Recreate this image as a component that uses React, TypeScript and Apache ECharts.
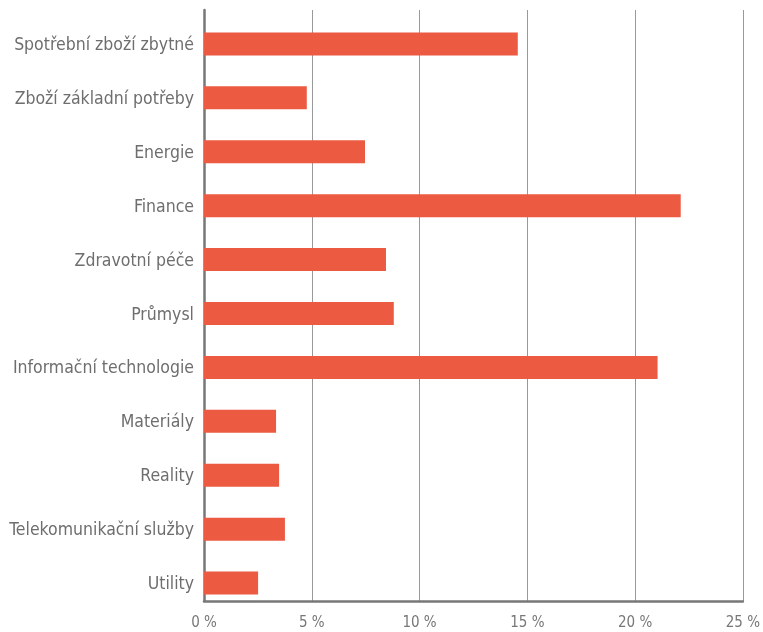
import React, { useEffect, useRef } from "react";
import * as echarts from "echarts";

const categories = [
  "Spotřební zboží zbytné",
  "Zboží základní potřeby",
  "Energie",
  "Finance",
  "Zdravotní péče",
  "Průmysl",
  "Informační technologie",
  "Materiály",
  "Reality",
  "Telekomunikační služby",
  "Utility",
];
const values = [14.5, 4.75, 7.44, 22.03, 8.41, 8.77, 20.96, 3.33, 3.47, 3.74, 2.5];
const xTicks = [0, 5, 10, 15, 20, 25];

const FONT = "'DejaVu Sans Condensed', 'Liberation Sans Narrow', sans-serif";

export default function App() {
  const ref = useRef<HTMLDivElement>(null);
  useEffect(() => {
    if (!ref.current) return;
    const chart = echarts.init(ref.current, undefined, { renderer: "svg" });
    chart.setOption({
      animation: false,
      grid: [
        { left: 204, right: 18, top: 10, bottom: 31, containLabel: false },
        { left: 204, right: 18, top: 17, bottom: 22, containLabel: false },
      ],
      xAxis: [
        {
          gridIndex: 0,
          type: "value",
          min: xTicks[0],
          max: xTicks[xTicks.length - 1],
          interval: 5,
          axisLine: { show: true, lineStyle: { color: "#777", width: 2.5 } },
          axisTick: { show: false },
          splitLine: { show: true, lineStyle: { color: "#999", width: 1 } },
          axisLabel: {
            formatter: (v: number) => `${v} %`,
            color: "#777",
            fontFamily: FONT,
            fontSize: 15,
            margin: 13,
          },
        },
        {
          gridIndex: 1,
          type: "value",
          min: xTicks[0],
          max: xTicks[xTicks.length - 1],
          show: false,
        },
      ],
      yAxis: [
        {
          gridIndex: 0,
          type: "category",
          data: categories,
          inverse: true,
          axisLine: { show: true, lineStyle: { color: "#777", width: 2.5 } },
          axisTick: { show: false },
          axisLabel: { show: false },
          splitLine: { show: false },
        },
        {
          gridIndex: 1,
          type: "category",
          data: categories,
          inverse: true,
          axisLine: { show: false },
          axisTick: { show: false },
          splitLine: { show: false },
          axisLabel: {
            color: "#6e6e6e",
            fontFamily: FONT,
            fontSize: 17.5,
            margin: 10,
          },
        },
      ],
      series: [
        {
          type: "bar",
          xAxisIndex: 1,
          yAxisIndex: 1,
          data: values,
          barWidth: 23,
          itemStyle: { color: "#EC5A42" },
        },
      ],
    });
    return () => chart.dispose();
  }, []);
  return (
    <div
      ref={ref}
      style={{ position: "fixed", left: 0, top: 0, width: 763, height: 632 }}
    />
  );
}
